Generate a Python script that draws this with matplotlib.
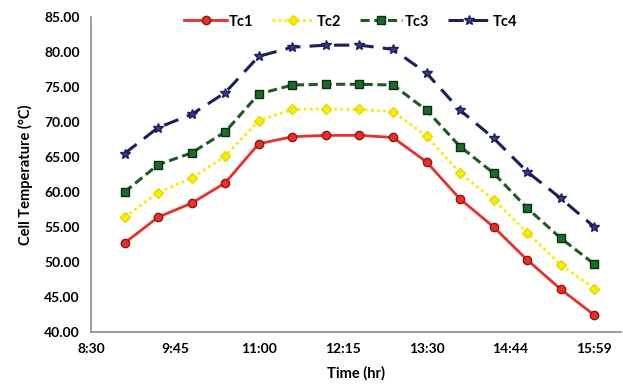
import matplotlib.pyplot as plt

# time of day in hours (9:00 to 16:00, every 30 min)
hours = [9.0, 9.5, 10.0, 10.5, 11.0, 11.5, 12.0, 12.5, 13.0, 13.5, 14.0, 14.5, 15.0, 15.5, 16.0]

tc1 = [52.7, 56.4, 58.4, 61.3, 66.9, 67.9, 68.1, 68.1, 67.8, 64.3, 59.0, 55.0, 50.3, 46.1, 42.4]
tc2 = [56.4, 59.9, 62.0, 65.1, 70.2, 71.8, 71.9, 71.8, 71.5, 68.0, 62.7, 58.9, 54.2, 49.6, 46.2]
tc3 = [60.0, 63.9, 65.6, 68.6, 74.0, 75.3, 75.4, 75.4, 75.3, 71.7, 66.5, 62.7, 57.7, 53.4, 49.7]
tc4 = [65.5, 69.2, 71.1, 74.2, 79.4, 80.7, 81.0, 81.0, 80.4, 77.0, 71.7, 67.7, 62.9, 59.1, 55.0]

xtick_pos = [8.5, 9.75, 11.0, 12.25, 13.5, 14.75, 16.0]
xtick_labels = ['8:30', '9:45', '11:00', '12:15', '13:30', '14:44', '15:59']
yticks = [40, 45, 50, 55, 60, 65, 70, 75, 80, 85]

plt.rcParams['font.family'] = ['Lato', 'DejaVu Sans']

fig = plt.figure(figsize=(6.23, 3.90), dpi=100)
ax = fig.add_axes([0.146, 0.149, 0.851, 0.807])

ax.plot(hours, tc1, color='#e8302a', lw=2, marker='o', ms=6,
        markeredgecolor='#8b1a14', markerfacecolor='#e8302a', label='Tc1')
ax.plot(hours, tc2, color='#f5ee00', lw=2, ls=(0, (1, 1.2)), marker='D', ms=5,
        markeredgecolor='#e6d800', markerfacecolor='#f5ee00', label='Tc2')
ax.plot(hours, tc3, color='#1d5a24', lw=2.2, ls=(0, (3, 1.5)), marker='s', ms=6,
        markeredgecolor='#0c2e10', markerfacecolor='#1d6b28', label='Tc3')
ax.plot(hours, tc4, color='#1c1f5c', lw=2.2, ls=(0, (5, 3)), marker='*', ms=7.5,
        markeredgecolor='#1c1f5c', markerfacecolor='#3a3a90', label='Tc4')

ax.set_xlim(8.5, 16.4)
ax.set_ylim(40, 85)
ax.set_xticks(xtick_pos)
ax.set_xticklabels(xtick_labels)
ax.set_yticks(yticks)
ax.set_yticklabels(['%.2f' % v for v in yticks])
ax.tick_params(length=0, labelsize=10, pad=8)
for lab in ax.get_xticklabels() + ax.get_yticklabels():
    lab.set_fontweight('bold')

for s in ['top', 'right']:
    ax.spines[s].set_visible(False)
for s in ['left', 'bottom']:
    ax.spines[s].set_color('#8c8c8c')
    ax.spines[s].set_linewidth(1.2)

ax.set_xlabel('Time (hr)', fontsize=10.5, fontweight='bold', labelpad=8)
ax.set_ylabel('Cell Temperature (\u00b0C)', fontsize=10.5, fontweight='bold', labelpad=8)

leg = ax.legend(loc='upper center', bbox_to_anchor=(0.49, 1.05), ncol=4, frameon=False,
                fontsize=10.5, handlelength=2.9, columnspacing=1.3, handletextpad=0.15)
for t in leg.get_texts():
    t.set_fontweight('bold')

plt.savefig('out.png', dpi=100)
